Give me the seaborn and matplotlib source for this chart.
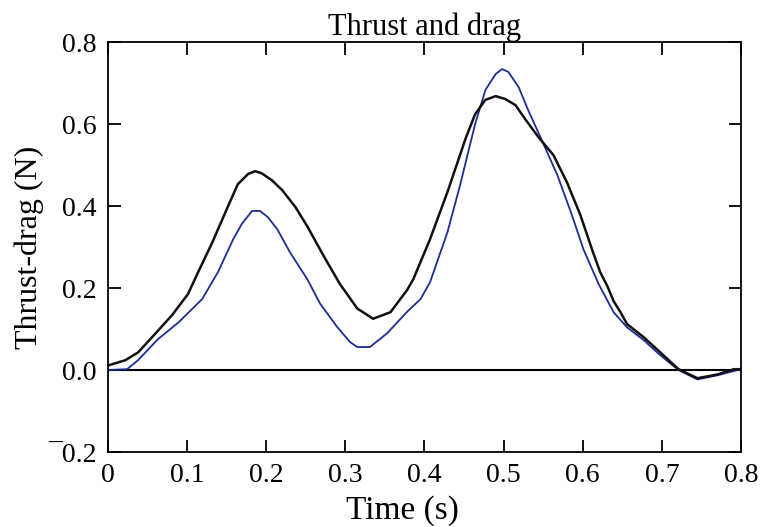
import numpy as np
import pandas as pd
import matplotlib
matplotlib.use('Agg')
import matplotlib.pyplot as plt
import seaborn as sns

# Black curve
time_black = [0.000, 0.022, 0.038, 0.059, 0.081, 0.101, 0.114, 0.132, 0.150,
	0.164, 0.177, 0.186, 0.194, 0.207, 0.220, 0.237, 0.252, 0.272, 0.293,
	0.315, 0.335, 0.357, 0.378, 0.386, 0.407, 0.429, 0.452, 0.464, 0.477,
	0.490, 0.502, 0.515, 0.528, 0.544, 0.563, 0.580, 0.597, 0.613, 0.622,
	0.631, 0.639, 0.648, 0.656, 0.677, 0.698, 0.721, 0.745, 0.770, 0.791,
	0.800]
force_black = [0.011, 0.024, 0.043, 0.087, 0.134, 0.185, 0.239, 0.312, 0.392,
	0.453, 0.478, 0.485, 0.480, 0.463, 0.439, 0.397, 0.350, 0.280, 0.210,
	0.150, 0.125, 0.141, 0.195, 0.222, 0.319, 0.434, 0.565, 0.624, 0.659,
	0.668, 0.661, 0.646, 0.610, 0.568, 0.524, 0.458, 0.378, 0.287, 0.239,
	0.205, 0.168, 0.140, 0.112, 0.080, 0.043, 0.002, -0.020, -0.011, 0.002,
	0.002]

# Blue curve
time_blue = [0.000, 0.024, 0.038, 0.063, 0.089, 0.119, 0.139, 0.158, 0.169,
	0.182, 0.192, 0.202, 0.214, 0.230, 0.252, 0.268, 0.290, 0.306, 0.315,
	0.331, 0.353, 0.378, 0.395, 0.407, 0.429, 0.445, 0.464, 0.477, 0.490,
	0.498, 0.506, 0.519, 0.531, 0.550, 0.568, 0.585, 0.601, 0.620, 0.639,
	0.656, 0.677, 0.698, 0.721, 0.745, 0.770, 0.800]
force_blue = [0.000, 0.002, 0.024, 0.075, 0.116, 0.173, 0.239, 0.318, 0.356,
	0.388, 0.388, 0.373, 0.343, 0.287, 0.221, 0.162, 0.104, 0.068, 0.056,
	0.056, 0.090, 0.142, 0.173, 0.214, 0.336, 0.451, 0.600, 0.683, 0.722,
	0.734, 0.727, 0.690, 0.634, 0.553, 0.475, 0.385, 0.294, 0.210, 0.141,
	0.104, 0.073, 0.036, 0.000, -0.023, -0.013, 0.002]

x_ticks = [0, 0.1, 0.2, 0.3, 0.4, 0.5, 0.6, 0.7, 0.8]
x_ticklabels = ['0', '0.1', '0.2', '0.3', '0.4', '0.5', '0.6', '0.7', '0.8']
y_ticks = [-0.2, 0.0, 0.2, 0.4, 0.6, 0.8]
y_ticklabels = ['\u00af0.2', '0.0', '0.2', '0.4', '0.6', '0.8']


if __name__ == '__main__':

	sns.set_style('ticks')
	plt.rcParams['font.family'] = ['Liberation Serif', 'DejaVu Serif']
	plt.rcParams['axes.linewidth'] = 1.3
	plt.rcParams['text.color'] = 'black'
	plt.rcParams['axes.labelcolor'] = 'black'

	black_df = pd.DataFrame({'time': time_black, 'force': force_black})
	blue_df = pd.DataFrame({'time': time_blue, 'force': force_blue})

	fig = plt.figure(figsize=(7.65, 5.27), dpi=100)
	ax = fig.add_axes([0.1412, 0.1423, 0.8274, 0.7780])

	ax.axhline(0, color='black', lw=1.5, zorder=1)
	sns.lineplot(x='time', y='force', data=blue_df, color='#1f2b96',
		lw=1.3, sort=False, ax=ax)
	sns.lineplot(x='time', y='force', data=black_df, color='#111111',
		lw=1.8, sort=False, ax=ax)

	ax.set_xlim(0, 0.8)
	ax.set_ylim(-0.2, 0.8)
	ax.set_xticks(x_ticks)
	ax.set_xticklabels(x_ticklabels)
	ax.set_yticks(y_ticks)
	ax.set_yticklabels(y_ticklabels)
	ax.tick_params(direction='in', length=9, width=1.3, top=True, right=True,
		labelsize=20, colors='black')
	ax.tick_params(axis='x', pad=8)
	ax.tick_params(axis='y', pad=8)
	for s in ax.spines.values():
		s.set_visible(True)
		s.set_color('black')

	ax.set_xlabel('Time (s)', fontsize=24, labelpad=4)
	ax.xaxis.set_label_coords(0.465, -0.105)
	ax.set_ylabel('Thrust-drag (N)', fontsize=23, labelpad=3)
	ax.set_title('Thrust and drag', fontsize=22, pad=5)

	plt.savefig('out.png', dpi=100)
	plt.close()
